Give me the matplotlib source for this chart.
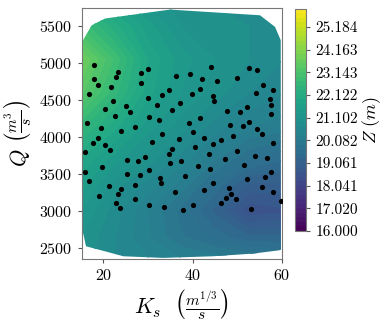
import numpy as np
import matplotlib
matplotlib.use("Agg")
import matplotlib.pyplot as plt
from matplotlib.patches import Polygon

plt.rcParams['font.family'] = 'serif'
plt.rcParams['font.serif'] = ['cmr10']
plt.rcParams['mathtext.fontset'] = 'cm'
plt.rcParams['axes.formatter.use_mathtext'] = True

# Sample points (Ks, Q)
ks = [17.91, 23.23, 22.78, 17.85, 18.74, 21.79, 28.39, 30.02, 28.52, 16.79,
      22.11, 30.02, 20.31, 25.09, 26.05, 22.69, 30.18, 16.41, 19.55, 23.90,
      27.11, 18.74, 44.08, 36.23, 39.37, 42.20, 45.56, 34.66, 33.23, 41.75,
      39.96, 44.60, 44.75, 37.20, 31.97, 35.47, 32.42, 41.75, 39.15, 40.11,
      33.09, 52.74, 54.39, 49.98, 55.81, 57.98, 54.17, 57.38, 57.67, 52.29,
      47.67, 50.58, 57.53, 48.48, 51.26, 52.74, 54.39, 55.65, 49.08, 17.76,
      20.31, 21.43, 15.96, 19.71, 25.38, 27.78, 29.28, 30.31, 15.96, 16.73,
      25.31, 28.23, 21.28, 23.97, 23.36, 27.17, 18.97, 22.85, 23.74, 27.17,
      30.18, 30.99, 36.91, 42.65, 44.66, 35.34, 34.73, 40.63, 43.63, 37.42,
      34.96, 41.23, 43.86, 38.39, 32.65, 33.00, 44.66, 42.58, 36.14, 33.68,
      40.04, 37.94, 46.32, 58.12, 50.04, 47.29, 53.95, 56.64, 51.48, 57.53,
      56.32, 52.29, 55.58, 48.18, 58.05, 48.57, 47.51, 49.75, 46.46, 59.84,
      53.18]
q = [4974, 4875, 4808, 4781, 4708, 4677, 4862, 4924, 4727, 4578,
     4484, 4532, 4384, 4416, 4335, 4281, 4268, 4187, 4124, 4087,
     4141, 3989, 4951, 4825, 4848, 4785, 4754, 4632, 4565, 4654,
     4586, 4555, 4492, 4457, 4430, 4366, 4236, 4263, 4191, 4066,
     4038, 4929, 4902, 4798, 4700, 4636, 4600, 4511, 4438, 4403,
     4357, 4339, 4308, 4160, 4146, 4209, 4114, 4047, 4020, 3925,
     3890, 3823, 3796, 3593, 3696, 3678, 3736, 3553, 3530, 3399,
     3499, 3480, 3337, 3304, 3233, 3350, 3206, 3102, 3044, 3156,
     3084, 3939, 3971, 3993, 3904, 3844, 3777, 3863, 3769, 3674,
     3647, 3607, 3570, 3472, 3449, 3381, 3372, 3277, 3250, 3053,
     3080, 3013, 3962, 3917, 3817, 3701, 3750, 3719, 3620, 3526,
     3458, 3426, 3327, 3310, 3260, 3223, 3175, 3165, 3111, 3129,
     3030]

# Field of Z (m) estimated on a coarse grid
grid_ks = [15, 22.5, 30, 37.5, 45, 52.5, 60]
grid_q = [2350, 2650, 3000, 3350, 3700, 4150, 4600, 5050, 5500, 5750]
z_grid = [
    [21.0, 20.7, 20.5, 20.3, 20.2, 20.1, 20.0],
    [21.1, 20.7, 20.3, 19.9, 19.6, 19.3, 19.3],
    [21.3, 20.8, 20.3, 19.8, 19.2, 18.5, 18.6],
    [21.6, 21.0, 20.6, 20.2, 19.6, 19.0, 19.0],
    [21.9, 21.4, 21.0, 20.6, 20.1, 19.7, 19.5],
    [22.6, 22.0, 21.4, 21.0, 20.6, 20.3, 20.2],
    [23.4, 22.6, 21.8, 21.3, 21.0, 20.7, 20.5],
    [23.8, 22.9, 21.9, 21.4, 21.1, 20.9, 20.7],
    [22.9, 22.2, 21.6, 21.1, 21.0, 20.9, 20.8],
    [22.4, 21.8, 21.3, 21.0, 20.9, 20.8, 20.7],
]

# Outline of the sampled domain
hull_ks = [15.45, 17.40, 20.38, 34.96, 55.13, 58.50, 59.78, 59.84, 59.46,
           53.56, 44.60, 33.40, 24.48, 20.38, 16.12, 15.38]
hull_q = [5311, 5513, 5604, 5725, 5648, 5491, 5311, 2477, 2468,
          2423, 2387, 2365, 2387, 2454, 2522, 2724]

z_min, z_max, n_levels = 16.0, 26.0, 50

fig = plt.figure(figsize=(3.9, 3.24), dpi=100)
ax = fig.add_axes([0.2095, 0.2006, 0.5128, 0.7744])
cax = fig.add_axes([0.756, 0.287, 0.029, 0.686])

levels = np.linspace(z_min, z_max, n_levels)
cs = ax.contourf(grid_ks, grid_q, np.array(z_grid), levels=levels, cmap='viridis',
                 vmin=z_min, vmax=z_max, antialiased=False)
poly = Polygon(np.column_stack([hull_ks, hull_q]), closed=True,
               facecolor='none', edgecolor='none', transform=ax.transData)
ax.add_patch(poly)
cs.set_clip_path(poly)

ax.scatter(ks, q, s=14, color='black', zorder=3, linewidths=0)

ax.set_xlim(15.15, 60)
ax.set_ylim(2350, 5745)
ax.set_xticks([20, 40, 60])
ax.set_yticks([2500, 3000, 3500, 4000, 4500, 5000, 5500])
ax.tick_params(labelsize=11.5, length=3, color='#555555')
for s in ax.spines.values():
    s.set_color('#777777')
ax.set_xlabel(r'$K_s\ \ \left(\frac{m^{1/3}}{s}\right)$', fontsize=16, labelpad=3)
ax.set_ylabel(r'$Q\ \left(\frac{m^3}{s}\right)$', fontsize=16, labelpad=3)

cb = fig.colorbar(cs, cax=cax)
cb.set_ticks(levels[::5])
cb.ax.set_yticklabels(['%.3f' % v for v in levels[::5]])
cb.ax.tick_params(labelsize=11, length=3, color='#555555')
cb.outline.set_edgecolor('#777777')
cb.set_label(r'$Z\ (m)$', fontsize=13, labelpad=2)

fig.savefig('out.png', dpi=100)
